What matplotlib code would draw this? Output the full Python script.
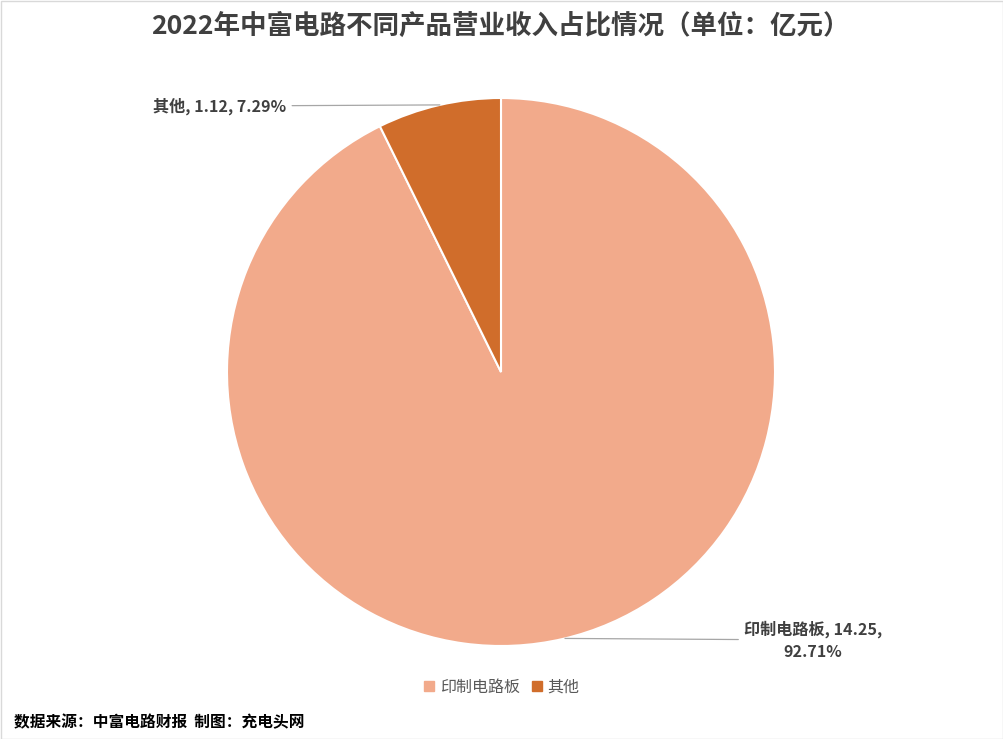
import numpy as np
import matplotlib
matplotlib.use("Agg")
import matplotlib.pyplot as plt
from matplotlib.patches import Rectangle

plt.rcParams['font.family'] = ['Noto Sans CJK SC', 'DejaVu Sans']

categories = ['印制电路板', '其他']
values = [14.25, 1.12]
percents = ['92.71%', '7.29%']
colors = ['#F2AA8B', '#D06D2B']
title = '2022年中富电路不同产品营业收入占比情况（单位：亿元）'
source = '数据来源：中富电路财报  制图：充电头网'

W, H = 1004, 739
fig = plt.figure(figsize=(W / 100, H / 100), dpi=100)

cx, cy, r = 501, 372, 274
ax = fig.add_axes([(cx - r) / W, (H - cy - r) / H, 2 * r / W, 2 * r / H])
wedges, _ = ax.pie(values, colors=colors, startangle=90, counterclock=False,
                   radius=1, wedgeprops=dict(edgecolor='white', linewidth=1.5))
ax.set_xlim(-1, 1)
ax.set_ylim(-1, 1)
ax.set_aspect('equal')
ax.axis('off')

# labels with leader lines
label_cfg = [
    dict(angle=-76.5, pos=(813, H - 640), ha='center', text=f'{categories[0]}, {values[0]:.2f},\n{percents[0]}'),
    dict(angle=102.9, pos=(220, H - 106), ha='center', text=f'{categories[1]}, {values[1]:.2f}, {percents[1]}'),
]
for cfg in label_cfg:
    a = np.deg2rad(cfg['angle'])
    ax.annotate(cfg['text'], xy=(np.cos(a), np.sin(a)), xycoords='data',
                xytext=cfg['pos'], textcoords='figure pixels',
                ha=cfg['ha'], va='center', multialignment='center',
                fontsize=11.6, fontweight='bold', color='#404040',
                linespacing=1.45,
                arrowprops=dict(arrowstyle='-', color='#A6A6A6', lw=0.9,
                                shrinkA=2, shrinkB=0))

fig.text(500 / W, 1 - 26 / H, title, ha='center', va='center',
         fontsize=19.1, fontweight='bold', color='#404040')

handles = [Rectangle((0, 0), 1, 1, color=c) for c in colors]
fig.legend(handles, categories, loc='center', bbox_to_anchor=(502 / W, 1 - 687 / H),
           ncol=2, frameon=False, handlelength=0.6, handleheight=0.6,
           handletextpad=0.35, columnspacing=0.8,
           prop=dict(size=11.5), labelcolor='#595959')

fig.text(14 / W, 1 - 722 / H, source, ha='left', va='center',
         fontsize=11.3, fontweight='bold', color='#000000')

fig.add_artist(Rectangle((0.5 / W, 0.5 / H), 1 - 1.5 / W, 1 - 1.5 / H,
                         transform=fig.transFigure, fill=False,
                         edgecolor='#D9D9D9', linewidth=1))

fig.savefig('out.png', dpi=100, facecolor='white')
